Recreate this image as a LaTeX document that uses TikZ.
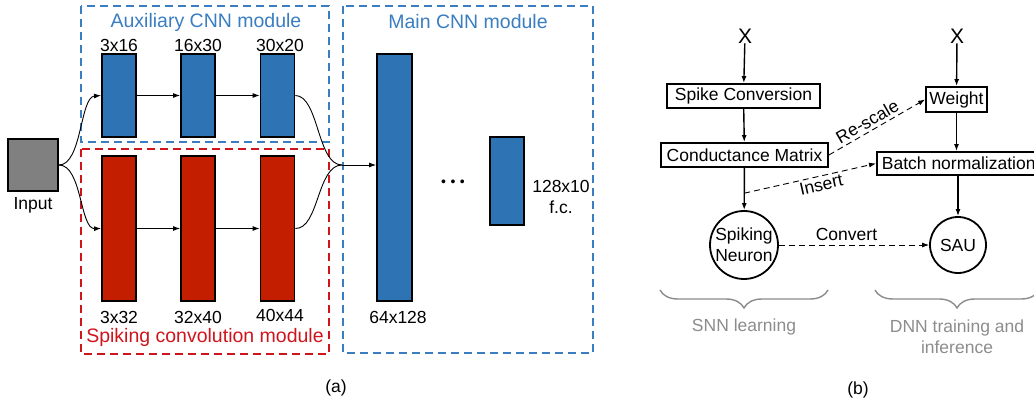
\documentclass[tikz,border=0pt]{standalone}
\usepackage{fontspec}
\setmainfont{Liberation Sans}
\usetikzlibrary{arrows.meta,decorations.pathreplacing,calc}

\definecolor{layerblue}{RGB}{46,116,181}
\definecolor{layerred}{RGB}{196,30,0}
\definecolor{frameblue}{RGB}{58,125,193}
\definecolor{framered}{RGB}{208,20,28}
\definecolor{inputgray}{RGB}{128,128,128}
\definecolor{notegray}{RGB}{140,140,140}

\begin{document}
\begin{tikzpicture}[x=1pt,y=-1pt,
  every node/.style={font=\fontsize{17.5}{21}\selectfont,inner sep=0pt},
  layer/.style={draw=black,line width=1.8pt,minimum width=34pt},
  bluelayer/.style={layer,fill=layerblue},
  redlayer/.style={layer,fill=layerred},
  frame/.style={line width=1.8pt,dash pattern=on 8pt off 5pt},
  title/.style={font=\fontsize{19.5}{23}\selectfont},
  link/.style={line width=0.9pt,-{Latex[length=7pt,width=5pt]}},
  flow/.style={line width=1.4pt,-{Latex[length=7pt,width=5pt]}},
  hint/.style={line width=0.9pt,dash pattern=on 6pt off 4pt,-{Latex[length=7pt,width=5pt]}},
  opbox/.style={draw=black,line width=1.8pt,inner xsep=5pt,minimum height=24pt},
  unit/.style={draw=black,line width=1.8pt,circle},
  gbrace/.style={draw=notegray,line width=1.4pt,decorate,decoration={brace,mirror,amplitude=18pt}},
  note/.style={text=notegray,align=center}
]
\useasboundingbox (0,0) rectangle (1034,406);
\clip (0,0) rectangle (1034,406);

% ---------------- (a) network ----------------
% module frames
\draw[frame,draw=frameblue] (81,6) rectangle (329,142);
\draw[frame,draw=framered] (81,149) rectangle (329,354);
\draw[frame,draw=frameblue] (343,6) rectangle (593,353);
\node[title,text=frameblue] (auxt) at (206,22) {Auxiliary CNN module};
\node[title,text=framered] (spkt) at (205,337) {Spiking convolution module};
\node[title,text=frameblue] (maint) at (468,22) {Main CNN module};

% input
\node[draw=black,line width=1.8pt,fill=inputgray,minimum width=50pt,minimum height=52pt] (inp) at (33,165) {};
\node (inpl) at (33,205) {Input};

% auxiliary branch
\node[bluelayer,minimum height=83pt] (a1) at (119,95.5) {};
\node[bluelayer,minimum height=83pt] (a2) at (198,95.5) {};
\node[bluelayer,minimum height=83pt] (a3) at (277.5,95.5) {};
\node (a1l) at (119,45) {3x16};
\node (a2l) at (198,45) {16x30};
\node (a3l) at (280,45) {30x20};

% spiking branch
\node[redlayer,minimum height=145pt] (s1) at (119,228.5) {};
\node[redlayer,minimum height=145pt] (s2) at (198,228.5) {};
\node[redlayer,minimum height=145pt] (s3) at (277.5,228.5) {};
\node (s1l) at (119,317) {3x32};
\node (s2l) at (198,317) {32x40};
\node (s3l) at (280,315) {40x44};

% main network
\node[bluelayer,minimum width=35pt,minimum height=247pt] (m1) at (394.5,177.5) {};
\node[bluelayer,minimum height=88pt] (m2) at (507,181) {};
\node (m1l) at (398,317) {64x128};
\node[font=\fontsize{14}{14}\selectfont] (dots) at (453,183) {•\hspace{4.5pt}•\hspace{4.5pt}•};
\node[align=center] (m2l) at (561,197) {128x10\\f.c.};

% connections
\coordinate (merge) at (342,165);
\draw[link] (inp.east) .. controls (82,165) and (80,97) .. (a1.west);
\draw[link] (inp.east) .. controls (82,165) and (80,229) .. (s1.west);
\draw[link] (a1) -- (a2);
\draw[link] (a2) -- (a3);
\draw[link] (s1) -- (s2);
\draw[link] (s2) -- (s3);
\draw[line width=0.9pt] (a3.east) .. controls (319,96) and (317,165) .. (merge);
\draw[line width=0.9pt] (s3.east) .. controls (319,229) and (317,165) .. (merge);
\draw[link] (merge) -- (merge -| m1.west);

\node (capa) at (336,388) {(a)};

% ---------------- (b) conversion flow ----------------
\node[font=\fontsize{21}{24}\selectfont] (xl) at (745,36) {X};
\node[font=\fontsize{21}{24}\selectfont] (xr) at (957,36) {X};
\node[opbox,minimum width=153pt] (sc) at (743.5,96) {Spike Conversion};
\node[opbox,minimum width=167pt] (cm) at (744.5,155) {Conductance Matrix};
\node[unit,minimum size=68pt,align=center] (sn) at (744,245) {Spiking\\Neuron};
\node[opbox,inner xsep=3pt,minimum width=61pt,minimum height=25pt] (wt) at (956.5,99.5) {Weight};
\node[opbox,anchor=west,minimum height=23pt] (bn) at (876,163.5) {Batch normalization};
\node[unit,minimum size=56pt] (sau) at (958,245) {SAU};

\draw[flow] (xl) -- (sc);
\draw[flow] (sc) -- (cm);
\draw[flow] (cm) -- (sn);
\draw[flow] (xr) -- (wt);
\draw[flow] (wt.south) -- (wt.south |- bn.north);
\draw[flow] (bn.south -| sau.north) -- (sau.north);

\coordinate (tap) at ($(cm.south)!0.6!(sn.north)$);
\draw[hint] (cm.east) -- node[pos=0.45,above=3pt,sloped] {Re-scale} (wt.west);
\draw[hint] (tap) -- node[pos=0.57,below=2pt,sloped] {Insert} (bn.west);
\draw[hint] (sn.east) -- node[pos=0.45,above=4pt] {Convert} (sau.west);

\coordinate (bl1) at (660,290);
\coordinate (bl2) at (828,290);
\coordinate (br1) at (875,290);
\coordinate (br2) at (1039,290);
\draw[gbrace] (bl1) -- (bl2);
\draw[gbrace] (br1) -- (br2);
\node[note] (snnl) at (744,327) {SNN learning};
\node[note] (dnnl) at (957,337) {DNN training and\\inference};

\node (capb) at (858,390) {(b)};
\end{tikzpicture}
\end{document}
